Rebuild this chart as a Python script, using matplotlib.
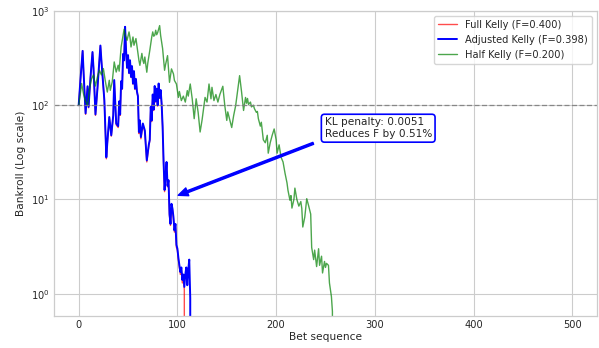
import matplotlib
matplotlib.use("Agg")
import matplotlib.pyplot as plt
import seaborn as sns

# bankroll paths (bet index, bankroll); 0 marks ruin
full_x = [0, 2, 4, 5, 7, 9, 10, 12, 14, 15, 17, 19, 22, 23, 25, 26, 28, 29, 31, 33,
          35, 36, 38, 40, 41, 42, 43, 44, 45, 46, 47, 48, 49, 50, 51, 52, 53, 54, 55, 56,
          57, 58, 59, 60, 61, 62, 63, 65, 67, 69, 71, 72, 73, 74, 75, 76, 77, 78, 79, 80,
          81, 82, 83, 84, 85, 86, 87, 88, 89, 90, 91, 92, 93, 94, 95, 96, 97, 98, 99, 100,
          101, 102, 103, 104, 105, 106, 107, 108]
full_kelly = [100, 200, 380, 215, 80, 158, 94, 198, 365, 248, 78, 148, 428, 298, 154, 112, 27, 39, 74, 47,
              77, 183, 62, 58, 108, 78, 178, 148, 348, 297, 676, 377, 247, 337, 217, 297, 197, 257, 167, 227,
              147, 187, 138, 123, 50, 67, 44, 62, 52, 25, 37, 42, 94, 67, 128, 88, 158, 108, 148, 98,
              168, 118, 143, 103, 58, 24, 12.1, 17.6, 24.5, 13.6, 15.6, 6.7, 5.3, 8.8, 7.8, 6.2, 4.5, 5.3, 3.1, 2.9,
              2.3, 1.9, 1.6, 1.8, 1.3, 1.5, 1.1, 0]

adj_x = [0, 2, 4, 5, 7, 9, 10, 12, 14, 15, 17, 19, 22, 23, 25, 26, 28, 29, 31, 33,
         35, 36, 38, 40, 41, 42, 43, 44, 45, 46, 47, 48, 49, 50, 51, 52, 53, 54, 55, 56,
         57, 58, 59, 60, 61, 62, 63, 65, 67, 69, 71, 72, 73, 74, 75, 76, 77, 78, 79, 80,
         81, 82, 83, 84, 85, 86, 87, 88, 89, 90, 91, 92, 93, 94, 95, 96, 97, 98, 99, 100,
         101, 102, 103, 104, 105, 106, 107, 108, 109, 110, 111, 112, 113, 114]
adjusted_kelly = [100, 200, 377, 220, 82, 159, 96, 200, 367, 250, 80, 150, 430, 300, 156, 113, 28, 40, 75, 48,
                  78, 185, 64, 60, 110, 80, 180, 150, 350, 300, 680, 380, 250, 340, 220, 300, 200, 260, 170, 230,
                  150, 190, 140, 125, 52, 69, 46, 64, 54, 26, 38, 43, 96, 69, 130, 90, 160, 110, 150, 100,
                  170, 120, 145, 105, 60, 25, 12.6, 18, 25, 14, 16, 7, 5.5, 9, 8, 6.5, 4.7, 5.5, 3.3, 3.0,
                  2.4, 2.0, 1.7, 1.9, 1.4, 1.6, 1.18, 1.6, 1.9, 1.23, 1.8, 2.3, 0.9, 0]

half_x = [0, 2, 3, 5, 7, 9, 11, 13, 15, 17, 19, 21, 23, 25, 27, 29, 31, 32, 34, 36,
          38, 40, 41, 43, 45, 46, 47, 49, 51, 52, 53, 55, 56, 58, 59, 61, 62, 64, 65, 66,
          67, 69, 70, 72, 74, 75, 76, 77, 78, 79, 80, 82, 83, 85, 87, 88, 90, 92, 94, 96,
          97, 99, 101, 102, 104, 106, 108, 110, 111, 113, 115, 117, 119, 121, 123, 125, 126, 128, 130, 132,
          134, 135, 137, 139, 141, 143, 146, 148, 150, 151, 153, 155, 157, 159, 161, 163, 165, 167, 169, 170,
          171, 172, 174, 175, 177, 178, 180, 181, 182, 184, 185, 187, 189, 191, 192, 194, 196, 198, 200, 201,
          203, 205, 207, 209, 211, 212, 214, 215, 216, 218, 219, 221, 223, 225, 226, 227, 229, 231, 233, 235,
          236, 238, 239, 241, 243, 244, 246, 247, 249, 250, 251, 253, 254, 256, 257, 258]
half_kelly = [100, 140, 170, 130, 110, 100, 150, 190, 210, 160, 200, 235, 210, 245, 180, 138, 184, 144, 177, 288,
              225, 266, 230, 415, 560, 640, 560, 489, 600, 520, 415, 530, 433, 510, 430, 300, 265, 355, 300, 277,
              325, 224, 280, 380, 530, 600, 540, 552, 625, 560, 590, 700, 550, 400, 235, 270, 336, 175, 243, 215,
              183, 168, 121, 140, 112, 125, 108, 143, 125, 168, 117, 72, 117, 84, 52, 70, 84, 121, 108, 168,
              117, 155, 112, 130, 108, 130, 159, 99, 69, 85, 70, 58, 78, 99, 143, 206, 138, 88, 121, 105,
              118, 102, 108, 96, 100, 92, 84, 86, 72, 60, 66, 43, 40, 48, 31, 40, 48, 56, 43, 31,
              38, 28, 25, 19, 15, 12.5, 9.8, 11, 8.1, 10, 13.2, 10, 8.5, 9.5, 8, 5.1, 6.5, 10.2, 8.5, 7,
              3.1, 2.3, 2.9, 1.94, 3.0, 2.0, 2.5, 1.66, 2.2, 1.9, 2.1, 2.0, 1.3, 0.93, 0.65, 0]

labels = ['Full Kelly (F=0.400)', 'Adjusted Kelly (F=0.398)', 'Half Kelly (F=0.200)']
kl_penalty = 0.0051
reduction_pct = 0.51

sns.set_theme(style='whitegrid')
plt.rcParams['font.family'] = ['DejaVu Sans']
plt.rcParams['grid.linewidth'] = 0.8
plt.rcParams['axes.linewidth'] = 0.9

fig, ax = plt.subplots(figsize=(5.99, 3.48), dpi=100)
fig.subplots_adjust(left=54 / 599, right=597 / 599, top=1 - 11 / 348, bottom=1 - 316 / 348)

ax.plot(full_x, full_kelly, color='red', alpha=0.7, lw=1.0, label=labels[0])
ax.plot(adj_x, adjusted_kelly, color='blue', lw=1.4, label=labels[1])
ax.plot(half_x, half_kelly, color='green', alpha=0.7, lw=1.0, label=labels[2])
ax.axhline(100, color='gray', ls='--', lw=0.9, alpha=0.9, dashes=(4, 2))

ax.set_yscale('log')
ax.set_xlim(-25, 525)
ax.set_ylim(0.58, 1000)
ax.set_xlabel('Bet sequence', fontsize=7.7, labelpad=1)
ax.set_ylabel('Bankroll (Log scale)', fontsize=7.7, labelpad=4)
ax.tick_params(labelsize=7.1, length=0, pad=3)

ax.annotate(f'KL penalty: {kl_penalty:.4f}\nReduces F by {reduction_pct:.2f}%',
            xy=(93, 10.3), xytext=(249, 46), fontsize=7.6,
            arrowprops=dict(facecolor='blue', edgecolor='blue', shrink=0.05,
                            width=1.5, headwidth=6, headlength=7),
            bbox=dict(boxstyle='round,pad=0.3', fc='white', ec='blue', lw=1.2))

ax.legend(loc='upper right', fontsize=7.1)

fig.savefig('out.png', dpi=100)
